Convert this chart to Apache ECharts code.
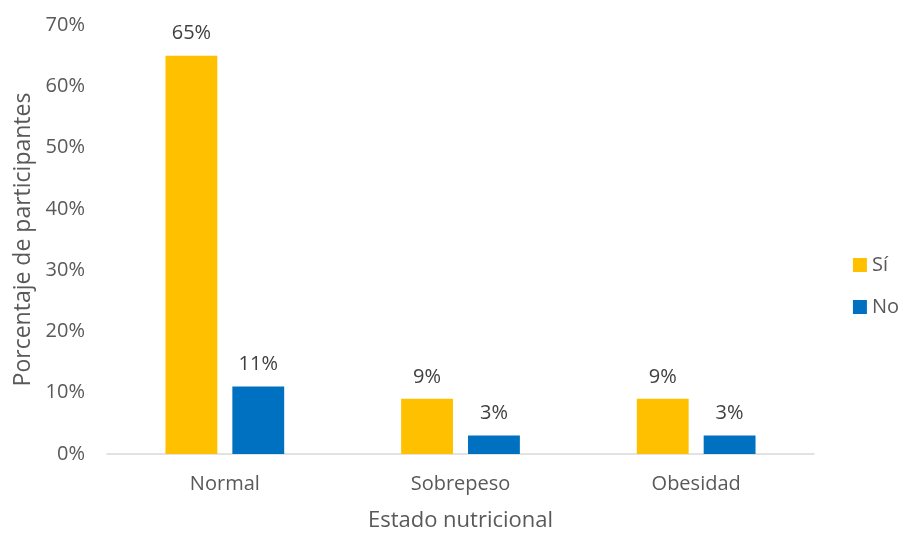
<!DOCTYPE html>
<html>
<head>
<meta charset="utf-8">
<script src="https://cdn.jsdelivr.net/npm/echarts@6/dist/echarts.min.js"></script>
<style>
  html, body { margin: 0; padding: 0; background: #fff; }
  #chart { width: 904px; height: 533px; }
</style>
</head>
<body>
<div id="chart"></div>
<script>
// datos del gráfico
const categories = ["Normal", "Sobrepeso", "Obesidad"];
const seriesNames = ["Sí", "No"];
const siValues = [65, 9, 9];
const noValues = [11, 3, 3];
const yTicks = [0, 10, 20, 30, 40, 50, 60, 70];

const FONT = "'Open Sans', 'DejaVu Sans', sans-serif";
const myChart = echarts.init(document.getElementById("chart"));

const label = {
  show: true,
  position: "top",
  distance: 12,
  color: "#404040",
  fontSize: 20,
  fontFamily: FONT,
  formatter: (p) => p.value + "%",
};

const option = {
  backgroundColor: "#fff",
  animation: false,
  grid: { left: 107, right: 90, top: 25, bottom: 79, outerBoundsMode: "none", containLabel: false },
  legend: {
    orient: "vertical",
    right: 0,
    top: 250,
    itemWidth: 14,
    itemHeight: 14,
    itemGap: 22,
    icon: "rect",
    textStyle: { color: "#595959", fontSize: 20, fontFamily: FONT },
    data: seriesNames,
  },
  xAxis: {
    type: "category",
    data: categories,
    name: "Estado nutricional",
    nameLocation: "middle",
    nameGap: 56,
    nameTextStyle: { color: "#595959", fontSize: 22, fontFamily: FONT },
    axisLine: { lineStyle: { color: "#D9D9D9", width: 1.5 } },
    axisTick: { show: false },
    axisLabel: { color: "#595959", fontSize: 20, fontFamily: FONT, margin: 20 },
  },
  yAxis: {
    type: "value",
    min: yTicks[0],
    max: yTicks[yTicks.length - 1],
    interval: 10,
    name: "Porcentaje de participantes",
    nameLocation: "middle",
    nameGap: 71,
    nameTextStyle: { color: "#595959", fontSize: 23, fontFamily: FONT },
    splitLine: { show: false },
    axisLine: { show: false },
    axisTick: { show: false },
    axisLabel: {
      color: "#595959",
      fontSize: 20,
      fontFamily: FONT,
      margin: 22,
      formatter: (v) => v + "%",
    },
  },
  series: [
    {
      name: seriesNames[0],
      type: "bar",
      data: siValues,
      barWidth: "22%",
      barGap: "29%",
      itemStyle: { color: "#FFC000" },
      label: label,
    },
    {
      name: seriesNames[1],
      type: "bar",
      data: noValues,
      barWidth: "22%",
      barGap: "29%",
      itemStyle: { color: "#0070C0" },
      label: label,
    },
  ],
};

myChart.setOption(option);
</script>
</body>
</html>
